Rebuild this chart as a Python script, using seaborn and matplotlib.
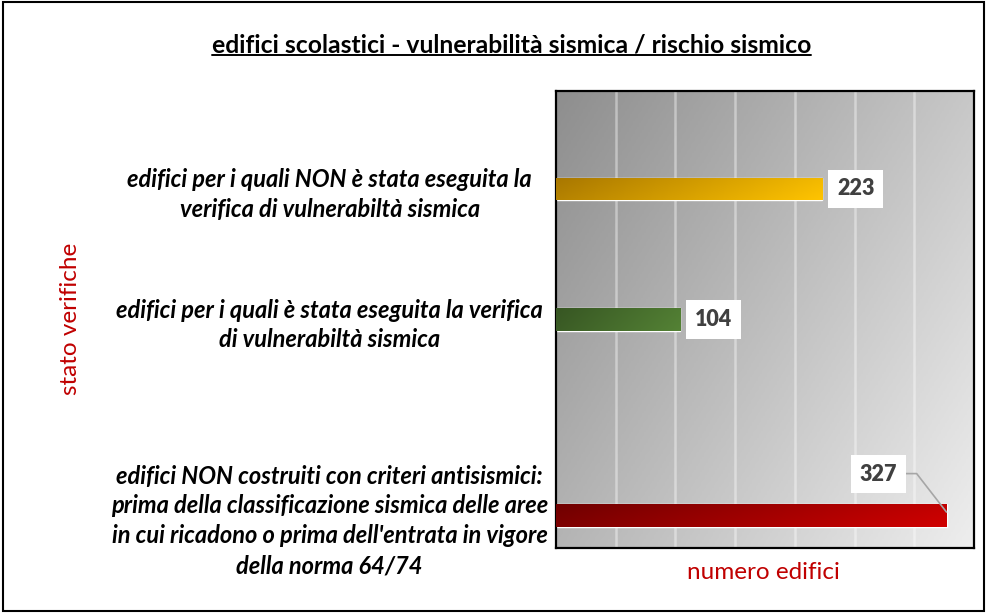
import numpy as np
import pandas as pd
import matplotlib
matplotlib.use("Agg")
import matplotlib.pyplot as plt
from matplotlib.colors import LinearSegmentedColormap
from matplotlib.lines import Line2D
from matplotlib.patches import Rectangle
import seaborn as sns

# dati
categorie = [
    "edifici per i quali NON è stata eseguita la\nverifica di vulnerabiltà sismica",
    "edifici per i quali è stata eseguita la verifica\ndi vulnerabiltà sismica",
    "edifici NON costruiti con criteri antisismici:\nprima della classificazione sismica delle aree\nin cui ricadono o prima dell'entrata in vigore\ndella norma 64/74",
]
valori = [223, 104, 327]
colori_scuri = ["#A87700", "#375623", "#700000"]
colori_chiari = ["#FFC400", "#548235", "#D00000"]

titolo = "edifici scolastici - vulnerabilità sismica / rischio sismico"
etichetta_y = "stato verifiche"
etichetta_x = "numero edifici"

df = pd.DataFrame({"categoria": categorie, "valore": valori})
# slot vuoti come nel grafico excel originale
ordine = [" ", categorie[0], "  ", categorie[1], "   ", "    ", categorie[2]]

sns.set_style("white")
plt.rcParams["font.family"] = ["Lato", "DejaVu Sans"]

fig = plt.figure(figsize=(9.87, 6.13), dpi=100)
ax = fig.add_axes([0.5633, 0.106, 0.4235, 0.7455])

sns.barplot(data=df, x="valore", y="categoria", hue="categoria", order=ordine,
            hue_order=categorie, palette=colori_chiari, orient="h", width=0.35,
            legend=False, ax=ax, zorder=2)

# sfondo sfumato
yy, xx = np.mgrid[0:1:200j, 0:1:200j]
sfondo = 0.6 * xx + 0.4 * yy
cmap_bg = LinearSegmentedColormap.from_list("bg", ["#8E8E8E", "#EEEEEE"])
ax.imshow(sfondo, cmap=cmap_bg, extent=[0, 1, 0, 1], transform=ax.transAxes,
          aspect="auto", zorder=-1, origin="upper")

# barre sfumate
for patch, c0, c1 in zip(ax.patches, colori_scuri, colori_chiari):
    x0, y0 = patch.get_x(), patch.get_y()
    w, h = patch.get_width(), patch.get_height()
    gy, gx = np.mgrid[0:1:20j, 0:1:200j]
    grad = 0.85 * gx + 0.15 * gy
    cm = LinearSegmentedColormap.from_list("b", [c0, c1])
    im = ax.imshow(grad, cmap=cm, extent=[x0, x0 + w, y0 + h, y0],
                   aspect="auto", zorder=3, origin="upper")
    im.set_clip_path(patch)

ax.set_xlim(0, 350)
ax.set_ylim(6.5, -0.5)

# griglia verticale
ax.set_xticks(np.arange(50, 350, 50))
ax.xaxis.grid(True, color="white", alpha=0.4, linewidth=1.8)
ax.yaxis.grid(False)
ax.set_axisbelow(True)
ax.tick_params(axis="x", length=0, labelbottom=False)
ax.tick_params(axis="y", length=0)
for s in ax.spines.values():
    s.set_visible(True)
    s.set_color("black")
    s.set_linewidth(1.6)

# etichette categorie
ax.set_yticks(range(len(ordine)))
ax.set_yticklabels([c if c in categorie else "" for c in ordine])
for lab in ax.get_yticklabels():
    lab.set_ha("center")
    lab.set_fontweight("bold")
    lab.set_fontstyle("italic")
    lab.set_fontsize(17)
    lab.set_linespacing(1.36)
    lab.set_color("black")
ax.tick_params(axis="y", pad=163)

ax.set_xlabel("")
ax.set_ylabel("")
fig.text(0.773, 0.066, etichetta_x, color="#C00000", fontsize=17.5,
         ha="center", va="center")
fig.text(0.071, 0.48, etichetta_y, color="#C00000", fontsize=17.5,
         rotation=90, ha="center", va="center")

# etichette valori
stile_box = dict(boxstyle="square,pad=0.4", fc="white", ec="none")
for i, (cat, v) in enumerate(zip(categorie, valori)):
    pos = ordine.index(cat)
    if i < 2:
        ax.text(v + 28, pos, str(v), ha="center", va="center", fontsize=15.5,
                fontweight="heavy", color="#404040", bbox=stile_box, zorder=5)
    else:
        ax.text(v - 57, pos - 0.63, str(v), ha="center", va="center", fontsize=15.5,
                fontweight="heavy", color="#404040", bbox=stile_box, zorder=5)
        ax.plot([v - 34, v - 25, v], [pos - 0.64, pos - 0.64, pos - 0.05],
                color="#A6A6A6", linewidth=1.2, zorder=4)

# titolo sottolineato
t = fig.text(0.518, 0.927, titolo, ha="center", va="center", fontsize=17.8,
             fontweight="bold", color="black")
fig.canvas.draw()
bb = t.get_window_extent().transformed(fig.transFigure.inverted())
fig.add_artist(Line2D([bb.x0, bb.x1], [bb.y0 + 0.002, bb.y0 + 0.002],
                      color="black", linewidth=1.4))

# bordo esterno
fig.add_artist(Rectangle((0.003, 0.004), 0.994, 0.992, transform=fig.transFigure,
                         fill=False, ec="black", lw=1.5))

fig.savefig("out.png", dpi=100)
